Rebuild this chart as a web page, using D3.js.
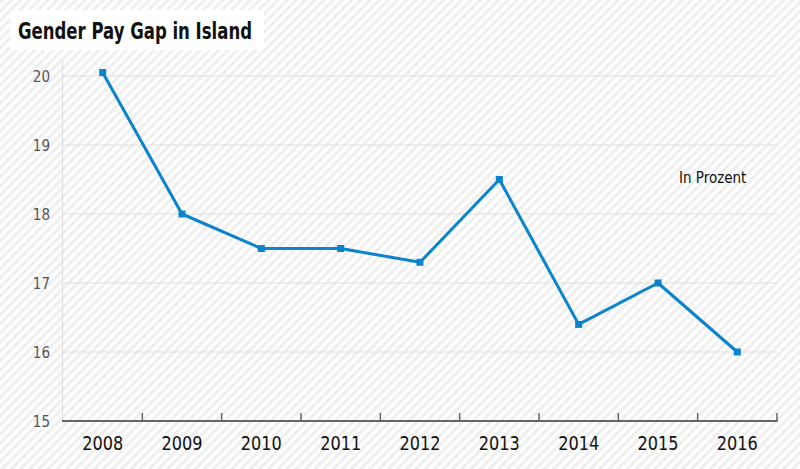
<!DOCTYPE html>
<html><head><meta charset="utf-8">
<script src="https://cdn.jsdelivr.net/npm/d3@7"></script>
<style>body{margin:0;}svg{display:block;}</style>
</head><body>
<script>
const years = ["2008","2009","2010","2011","2012","2013","2014","2015","2016"];
const values = [20.05, 18.0, 17.5, 17.5, 17.3, 18.5, 16.4, 17.0, 16.0];
const yTicks = [15, 16, 17, 18, 19, 20];
const title = "Gender Pay Gap in Island";
const unitLabel = "In Prozent";

const W = 800, H = 469;
const font = "'DejaVu Sans Condensed', 'Liberation Sans Narrow', sans-serif";
const svg = d3.select("body").append("svg").attr("width", W).attr("height", H);
const defs = svg.append("defs");
const pat = defs.append("pattern").attr("id","stripes").attr("patternUnits","userSpaceOnUse")
  .attr("width",6.5).attr("height",6.5).attr("patternTransform","rotate(45)");
pat.append("rect").attr("width",6.5).attr("height",6.5).attr("fill","#ffffff");
pat.append("rect").attr("width",3.25).attr("height",6.5).attr("fill","#efefef");
svg.append("rect").attr("width",W).attr("height",H).attr("fill","url(#stripes)");

const x = d3.scaleBand().domain(years).range([63, 777]);
const y = d3.scaleLinear().domain([15, 20]).range([421, 76]);

// gridlines
svg.append("g").selectAll("line").data(yTicks.filter(d=>d>15)).join("line")
  .attr("x1",63).attr("x2",777).attr("y1",d=>y(d)).attr("y2",d=>y(d))
  .attr("stroke","#e0e0e0").attr("stroke-width",1.2);
// vertical axis line
svg.append("line").attr("x1",62.5).attr("x2",62.5).attr("y1",60).attr("y2",421)
  .attr("stroke","#e0e0e0").attr("stroke-width",1.2);

// y labels
svg.append("g").selectAll("text").data(yTicks).join("text")
  .attr("x",50).attr("y",d=>y(d)+6).attr("text-anchor","end")
  .attr("font-family",font).attr("font-size",15).attr("fill","#555")
  .text(d=>d);

// x axis
const xAxis = d3.axisBottom(x).tickSize(0).tickPadding(15);
const gx = svg.append("g").attr("transform","translate(0,421)").call(xAxis);
gx.select(".domain").attr("stroke","#666").attr("stroke-width",2).attr("d","M62,0H777.5");
gx.selectAll("text").attr("font-family",font).attr("font-size",20).attr("fill","#111")
  .attr("textLength",41).attr("lengthAdjust","spacingAndGlyphs");
// boundary ticks
const bounds = years.map(d=>x(d)+x.bandwidth());
svg.append("g").selectAll("line").data(bounds).join("line")
  .attr("x1",d=>d).attr("x2",d=>d).attr("y1",413).attr("y2",421)
  .attr("stroke","#666").attr("stroke-width",1.5);

// line
const line = d3.line().x((d,i)=>x(years[i])+x.bandwidth()/2).y(d=>y(d));
svg.append("path").datum(values).attr("d",line).attr("fill","none")
  .attr("stroke","#0a84cc").attr("stroke-width",3).attr("stroke-linejoin","round");
svg.append("g").selectAll("rect").data(values).join("rect")
  .attr("x",(d,i)=>x(years[i])+x.bandwidth()/2-3.5).attr("y",d=>y(d)-3.5)
  .attr("width",7).attr("height",7).attr("fill","#0a84cc");

// title
svg.append("rect").attr("x",10).attr("y",10).attr("width",254).attr("height",40).attr("fill","#fff");
svg.append("text").attr("x",18).attr("y",39).attr("font-family",font).attr("font-weight","bold")
  .attr("font-size",23).attr("fill","#111").attr("textLength",234).attr("lengthAdjust","spacingAndGlyphs")
  .text(title);

svg.append("text").attr("x",679).attr("y",183).attr("font-family",font).attr("font-size",15)
  .attr("fill","#111").text(unitLabel);
</script>
</body></html>
